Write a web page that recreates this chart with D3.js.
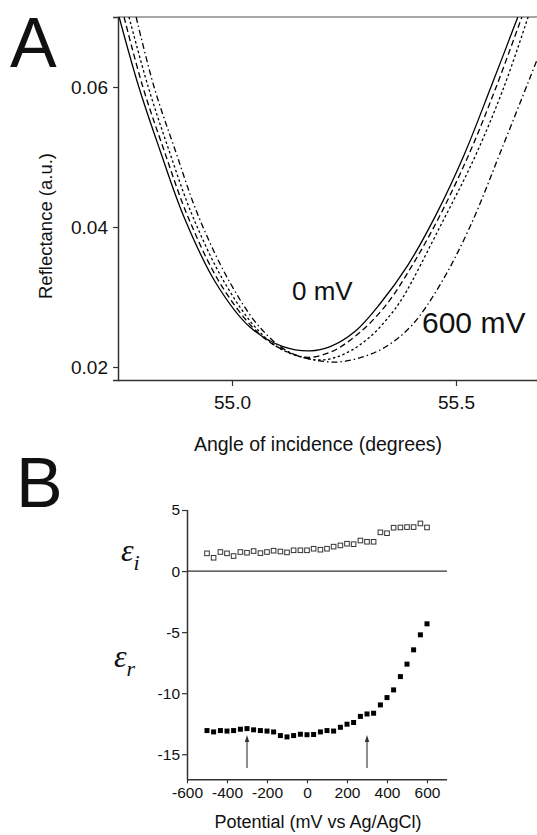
<!DOCTYPE html>
<html><head><meta charset="utf-8">
<script src="https://cdn.jsdelivr.net/npm/d3@7/dist/d3.min.js"></script>
<style>
body{margin:0;background:#fff}
svg{display:block}
text{font-family:"Liberation Sans",Arial,sans-serif;fill:#111}
.serif{font-family:"Liberation Serif","DejaVu Serif",serif;font-style:italic}
</style>
</head><body>
<svg id="c" width="537" height="835"></svg>
<script>
// ---------- Panel A data: reflectance curves ----------
const curveNames = ["0 mV", "200 mV", "400 mV", "600 mV"];
const angle0 = [54.748,54.792,54.839,54.893,54.964,55.040,55.114,55.174,55.219,55.275,55.330,55.393,55.455,55.518,55.578,55.638];
const refl0  = [0.0700,0.0600,0.0510,0.0414,0.0320,0.0257,0.0229,0.0223,0.0229,0.0251,0.0290,0.0346,0.0417,0.0503,0.0600,0.0700];
const angle1 = [54.759,54.801,54.848,54.902,54.973,55.047,55.098,55.163,55.219,55.279,55.342,55.404,55.467,55.531,55.589,55.647];
const refl1  = [0.0700,0.0600,0.0510,0.0414,0.0320,0.0256,0.0230,0.0214,0.0221,0.0246,0.0287,0.0347,0.0420,0.0507,0.0599,0.0700];
const angle2 = [54.770,54.813,54.859,54.913,54.984,55.056,55.114,55.196,55.252,55.308,55.353,55.382,55.464,55.542,55.607,55.661];
const refl2  = [0.0700,0.0600,0.0510,0.0414,0.0320,0.0254,0.0224,0.0210,0.0219,0.0243,0.0274,0.0300,0.0400,0.0500,0.0600,0.0700];
const angle3 = [54.786,54.826,54.873,54.926,54.996,55.063,55.129,55.225,55.290,55.346,55.402,55.464,55.531,55.603,55.681];
const refl3  = [0.0700,0.0600,0.0510,0.0414,0.0320,0.0256,0.0221,0.0207,0.0214,0.0230,0.0260,0.0317,0.0400,0.0513,0.0639];
const angleTicks = [55.0, 55.5];
const reflTicks = [0.02, 0.04, 0.06];

// ---------- Panel B data: dielectric constants vs potential ----------
const potential = [-500,-467,-433,-400,-367,-333,-300,-267,-233,-200,-167,-133,-100,-67,-33,0,33,67,100,133,167,200,233,267,300,333,367,400,433,467,500,533,567,600];
const epsI = [1.45,1.09,1.56,1.45,1.23,1.56,1.50,1.64,1.47,1.56,1.67,1.60,1.53,1.70,1.70,1.70,1.83,1.75,1.83,2.00,2.10,2.24,2.20,2.50,2.40,2.40,3.17,3.10,3.55,3.57,3.60,3.60,3.90,3.57];
const epsR = [-13.06,-13.17,-13.06,-13.10,-13.06,-12.95,-12.90,-13.00,-13.06,-13.10,-13.17,-13.47,-13.58,-13.47,-13.36,-13.40,-13.38,-13.17,-13.06,-13.10,-12.79,-12.54,-12.40,-11.90,-11.70,-11.64,-10.96,-10.36,-9.73,-8.64,-7.62,-6.45,-5.22,-4.32];
const potTicks = [-600,-400,-200,0,200,400,600];
const epsTicks = [5,0,-5,-10,-15];
const arrowPots = [-300, 300];

const svg = d3.select("#c");
const axisCol = "#333";

// ================= Panel A =================
const xA = d3.scaleLinear().domain([54.7455, 55.6808]).range([118, 537]);
const yA = d3.scaleLinear().domain([0.018143, 0.07]).range([380, 17]);

svg.append("defs").append("clipPath").attr("id","clipA")
  .append("rect").attr("x",118).attr("y",17).attr("width",419).attr("height",363);

svg.append("line").attr("x1",118).attr("x2",537).attr("y1",17).attr("y2",17)
  .attr("stroke","#888").attr("stroke-width",1.5);

const curves = [
  {a:angle0, r:refl0, dash:null},
  {a:angle1, r:refl1, dash:"6,3.5"},
  {a:angle2, r:refl2, dash:"2.5,2.5"},
  {a:angle3, r:refl3, dash:"6,3,1.5,3"}
];
const lineA = d3.line().x(d=>xA(d[0])).y(d=>yA(d[1])).curve(d3.curveCatmullRom.alpha(0.5));
const gC = svg.append("g").attr("clip-path","url(#clipA)");
curves.forEach(c=>{
  const pts = c.a.map((v,i)=>[v,c.r[i]]);
  gC.append("path").attr("d",lineA(pts)).attr("fill","none").attr("stroke","#000")
    .attr("stroke-width",1.3).attr("stroke-dasharray",c.dash);
});

const gxA = svg.append("g").attr("transform","translate(0,380)");
gxA.call(d3.axisBottom(xA).tickValues(d3.range(54.8,55.7,0.1)).tickSize(4).tickFormat(""));
gxA.call(d3.axisBottom(xA).tickValues(angleTicks).tickSize(6).tickPadding(10).tickFormat(d3.format(".1f")));
const gyA = svg.append("g").attr("transform","translate(118,0)");
gyA.call(d3.axisLeft(yA).tickValues([0.03,0.05]).tickSize(3).tickFormat(""));
gyA.call(d3.axisLeft(yA).tickValues(reflTicks).tickSize(5).tickPadding(5).tickFormat(d3.format(".2f")));
[gxA,gyA].forEach(g=>{
  g.selectAll(".domain").attr("stroke",axisCol).attr("stroke-width",1.5);
  g.selectAll(".tick line").attr("stroke",axisCol).attr("stroke-width",1.2);
  g.selectAll("text").style("font-size","19px").attr("fill","#111");
});
gxA.selectAll(".domain").attr("d","M118,0.5H537");

svg.append("text").attr("x",318).attr("y",451).attr("text-anchor","middle")
  .style("font-size","19.5px").text("Angle of incidence (degrees)");
svg.append("text").attr("transform","translate(52,226) rotate(-90)").attr("text-anchor","middle")
  .style("font-size","18.5px").text("Reflectance (a.u.)");
svg.append("text").attr("x",292).attr("y",300)
  .style("font-size","26px").text(curveNames[0]);
svg.append("text").attr("x",422).attr("y",333)
  .style("font-size","30px").text(curveNames[3]);
svg.append("text").attr("x",10).attr("y",67).style("font-size","70px").text("A");

// ================= Panel B =================
const xB = d3.scaleLinear().domain([-600, 700]).range([187, 447]);
const yB = d3.scaleLinear().domain([-17.05, 5]).range([779.3, 510]);

svg.append("line").attr("x1",xB(-600)).attr("x2",xB(700)).attr("y1",yB(0)).attr("y2",yB(0))
  .attr("stroke","#333").attr("stroke-width",1.3);

const fmtInt = d => String(d);
const gxB = svg.append("g").attr("transform","translate(0,779.3)");
gxB.call(d3.axisBottom(xB).tickValues(d3.range(-500,701,200)).tickSize(2.5).tickFormat(""));
gxB.call(d3.axisBottom(xB).tickValues(potTicks).tickSize(4).tickPadding(4).tickFormat(fmtInt));
const gyB = svg.append("g").attr("transform","translate(187,0)");
gyB.call(d3.axisLeft(yB).tickValues([2.5,-2.5,-7.5,-12.5]).tickSize(3).tickFormat(""));
gyB.call(d3.axisLeft(yB).tickValues(epsTicks).tickSize(5).tickPadding(2).tickFormat(fmtInt));
[gxB,gyB].forEach(g=>{
  g.selectAll(".domain").attr("stroke",axisCol).attr("stroke-width",1.5);
  g.selectAll(".tick line").attr("stroke",axisCol).attr("stroke-width",1.2);
  g.selectAll("text").style("font-size","15.5px").attr("fill","#111");
});
gxB.selectAll(".domain").attr("d","M187,0.5H447");
gyB.selectAll(".domain").attr("d","M0.5,510V779.3");

const gArr = svg.append("g");
arrowPots.forEach(p=>{
  const x = xB(p);
  gArr.append("line").attr("x1",x).attr("x2",x).attr("y1",yB(-16.12)).attr("y2",yB(-13.7))
    .attr("stroke","#444").attr("stroke-width",1.2);
  gArr.append("path").attr("d",`M${x},${yB(-13.42)} L${x-2.2},${yB(-13.42)+7} L${x+2.2},${yB(-13.42)+7} Z`)
    .attr("fill","#333");
});

svg.append("g").selectAll("rect").data(potential).join("rect")
  .attr("x",(d)=>xB(d)-2.3).attr("y",(d,i)=>yB(epsI[i])-2.3)
  .attr("width",4.6).attr("height",4.6).attr("fill","#fff").attr("stroke","#333").attr("stroke-width",1);
svg.append("g").selectAll("rect").data(potential).join("rect")
  .attr("x",(d)=>xB(d)-2.5).attr("y",(d,i)=>yB(epsR[i])-2.5)
  .attr("width",5).attr("height",5).attr("fill","#000");

svg.append("text").attr("x",318).attr("y",828).attr("text-anchor","middle")
  .style("font-size","18px").text("Potential (mV vs Ag/AgCl)");
svg.append("text").attr("x",16).attr("y",507).style("font-size","70px").text("B");

const ei = svg.append("text").attr("class","serif").attr("x",121).attr("y",561).style("font-size","32px");
ei.append("tspan").text("ε");
ei.append("tspan").attr("dy",9).style("font-size","22px").text("i");
const er = svg.append("text").attr("class","serif").attr("x",114).attr("y",667).style("font-size","32px");
er.append("tspan").text("ε");
er.append("tspan").attr("dy",9).style("font-size","22px").text("r");
</script>
</body></html>
